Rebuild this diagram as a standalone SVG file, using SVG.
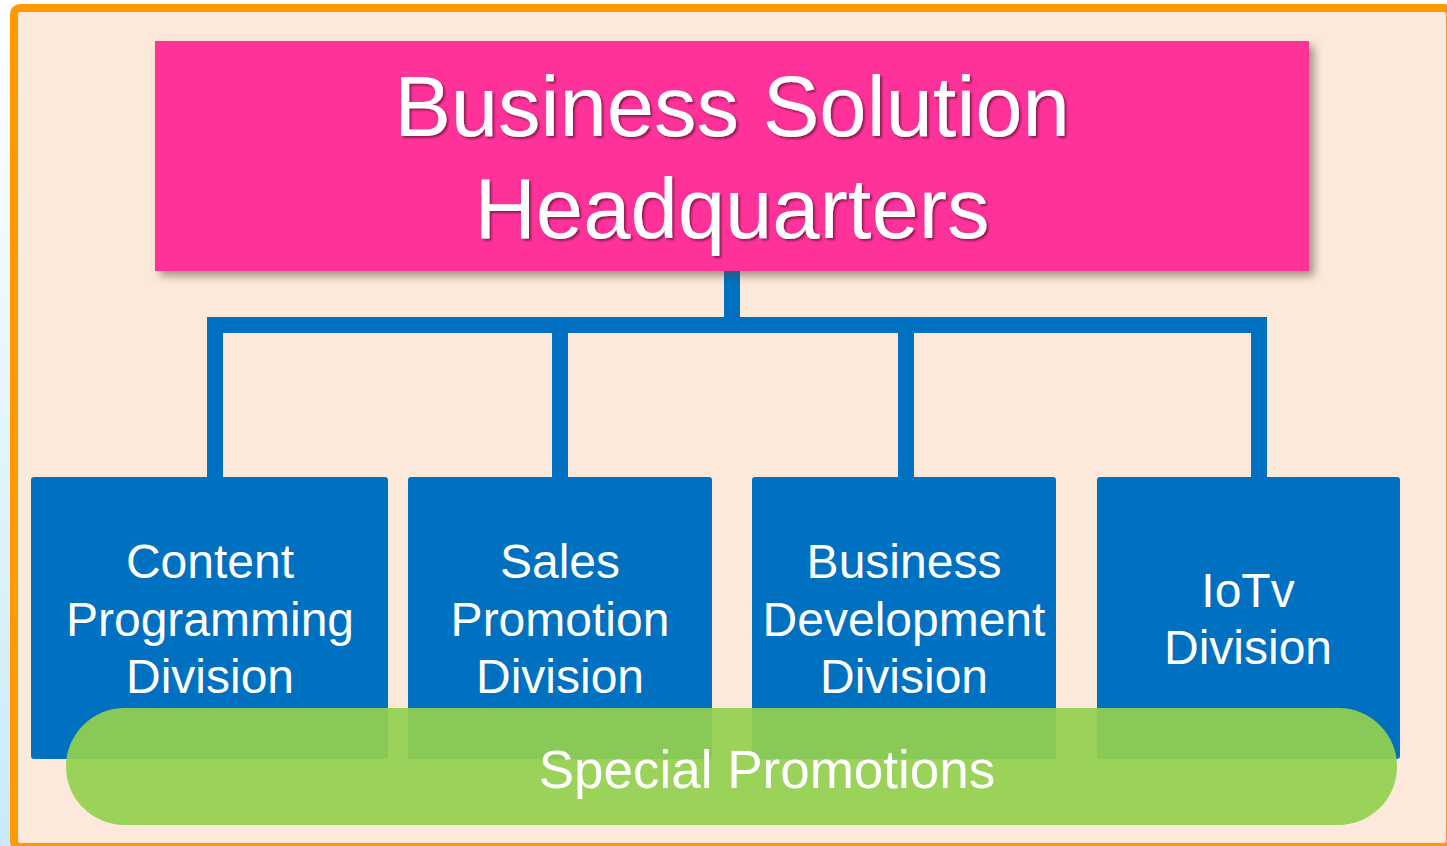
<svg xmlns="http://www.w3.org/2000/svg" width="1447" height="846" viewBox="0 0 1447 846">
  <defs>
    <linearGradient id="pageBg" x1="0" y1="0" x2="0" y2="1">
      <stop offset="0" stop-color="#ffffff"/>
      <stop offset="1" stop-color="#c8ebf9"/>
    </linearGradient>
    <filter id="boxShadow" x="-5%" y="-10%" width="115%" height="130%">
      <feGaussianBlur in="SourceAlpha" stdDeviation="4"/>
      <feOffset dx="5" dy="5" result="b"/>
      <feFlood flood-color="#5a4a3a" flood-opacity="0.55"/>
      <feComposite in2="b" operator="in"/>
      <feMerge><feMergeNode/><feMergeNode in="SourceGraphic"/></feMerge>
    </filter>
    <filter id="textShadow" x="-5%" y="-10%" width="110%" height="130%">
      <feGaussianBlur in="SourceAlpha" stdDeviation="1"/>
      <feOffset dx="2" dy="2" result="b"/>
      <feFlood flood-color="#000000" flood-opacity="0.45"/>
      <feComposite in2="b" operator="in"/>
      <feMerge><feMergeNode/><feMergeNode in="SourceGraphic"/></feMerge>
    </filter>
  </defs>
  <style>
    text { font-family: "Liberation Sans", Arial, sans-serif; fill: #ffffff; text-anchor: middle; }
    .hq { font-size: 85px; }
    .div { font-size: 48px; }
    .promo { font-size: 53px; }
    .unit { fill: #0070c0; }
    .link { fill: none; stroke: #0070c0; stroke-width: 16; stroke-linejoin: miter; }
  </style>

  <!-- page and framed panel -->
  <rect x="0" y="0" width="1447" height="846" fill="url(#pageBg)"/>
  <rect x="14" y="8" width="1436" height="839" rx="6" fill="#fce9db" stroke="#ff9900" stroke-width="8"/>

  <!-- connectors -->
  <g id="connectors">
    <path class="link" d="M732,271 V325"/>
    <path class="link" d="M215,477 V325 H1259 V477"/>
    <path class="link" d="M560,325 V477"/>
    <path class="link" d="M906,325 V477"/>
  </g>

  <!-- headquarters -->
  <g id="headquarters">
    <rect x="155" y="41" width="1154" height="230" fill="#ff3399" filter="url(#boxShadow)"/>
    <g filter="url(#textShadow)">
      <text class="hq" x="732" y="136">Business Solution</text>
      <text class="hq" x="732" y="238">Headquarters</text>
    </g>
  </g>

  <!-- divisions -->
  <g id="content-programming">
    <rect class="unit" x="31" y="477" width="357" height="282" rx="3"/>
    <text class="div" x="210" y="578">Content</text>
    <text class="div" x="210" y="636">Programming</text>
    <text class="div" x="210" y="693">Division</text>
  </g>
  <g id="sales-promotion">
    <rect class="unit" x="408" y="477" width="304" height="282" rx="3"/>
    <text class="div" x="560" y="578">Sales</text>
    <text class="div" x="560" y="636">Promotion</text>
    <text class="div" x="560" y="693">Division</text>
  </g>
  <g id="business-development">
    <rect class="unit" x="752" y="477" width="304" height="282" rx="3"/>
    <text class="div" x="904" y="578">Business</text>
    <text class="div" x="904" y="636">Development</text>
    <text class="div" x="904" y="693">Division</text>
  </g>
  <g id="iotv">
    <rect class="unit" x="1097" y="477" width="303" height="282" rx="3"/>
    <text class="div" x="1248" y="607">IoTv</text>
    <text class="div" x="1248" y="664">Division</text>
  </g>

  <!-- cross-division band -->
  <g id="special-promotions">
    <rect x="66" y="708" width="1331" height="117" rx="58.5" fill="#92d050" fill-opacity="0.93"/>
    <text class="promo" x="767" y="788">Special Promotions</text>
  </g>
</svg>
